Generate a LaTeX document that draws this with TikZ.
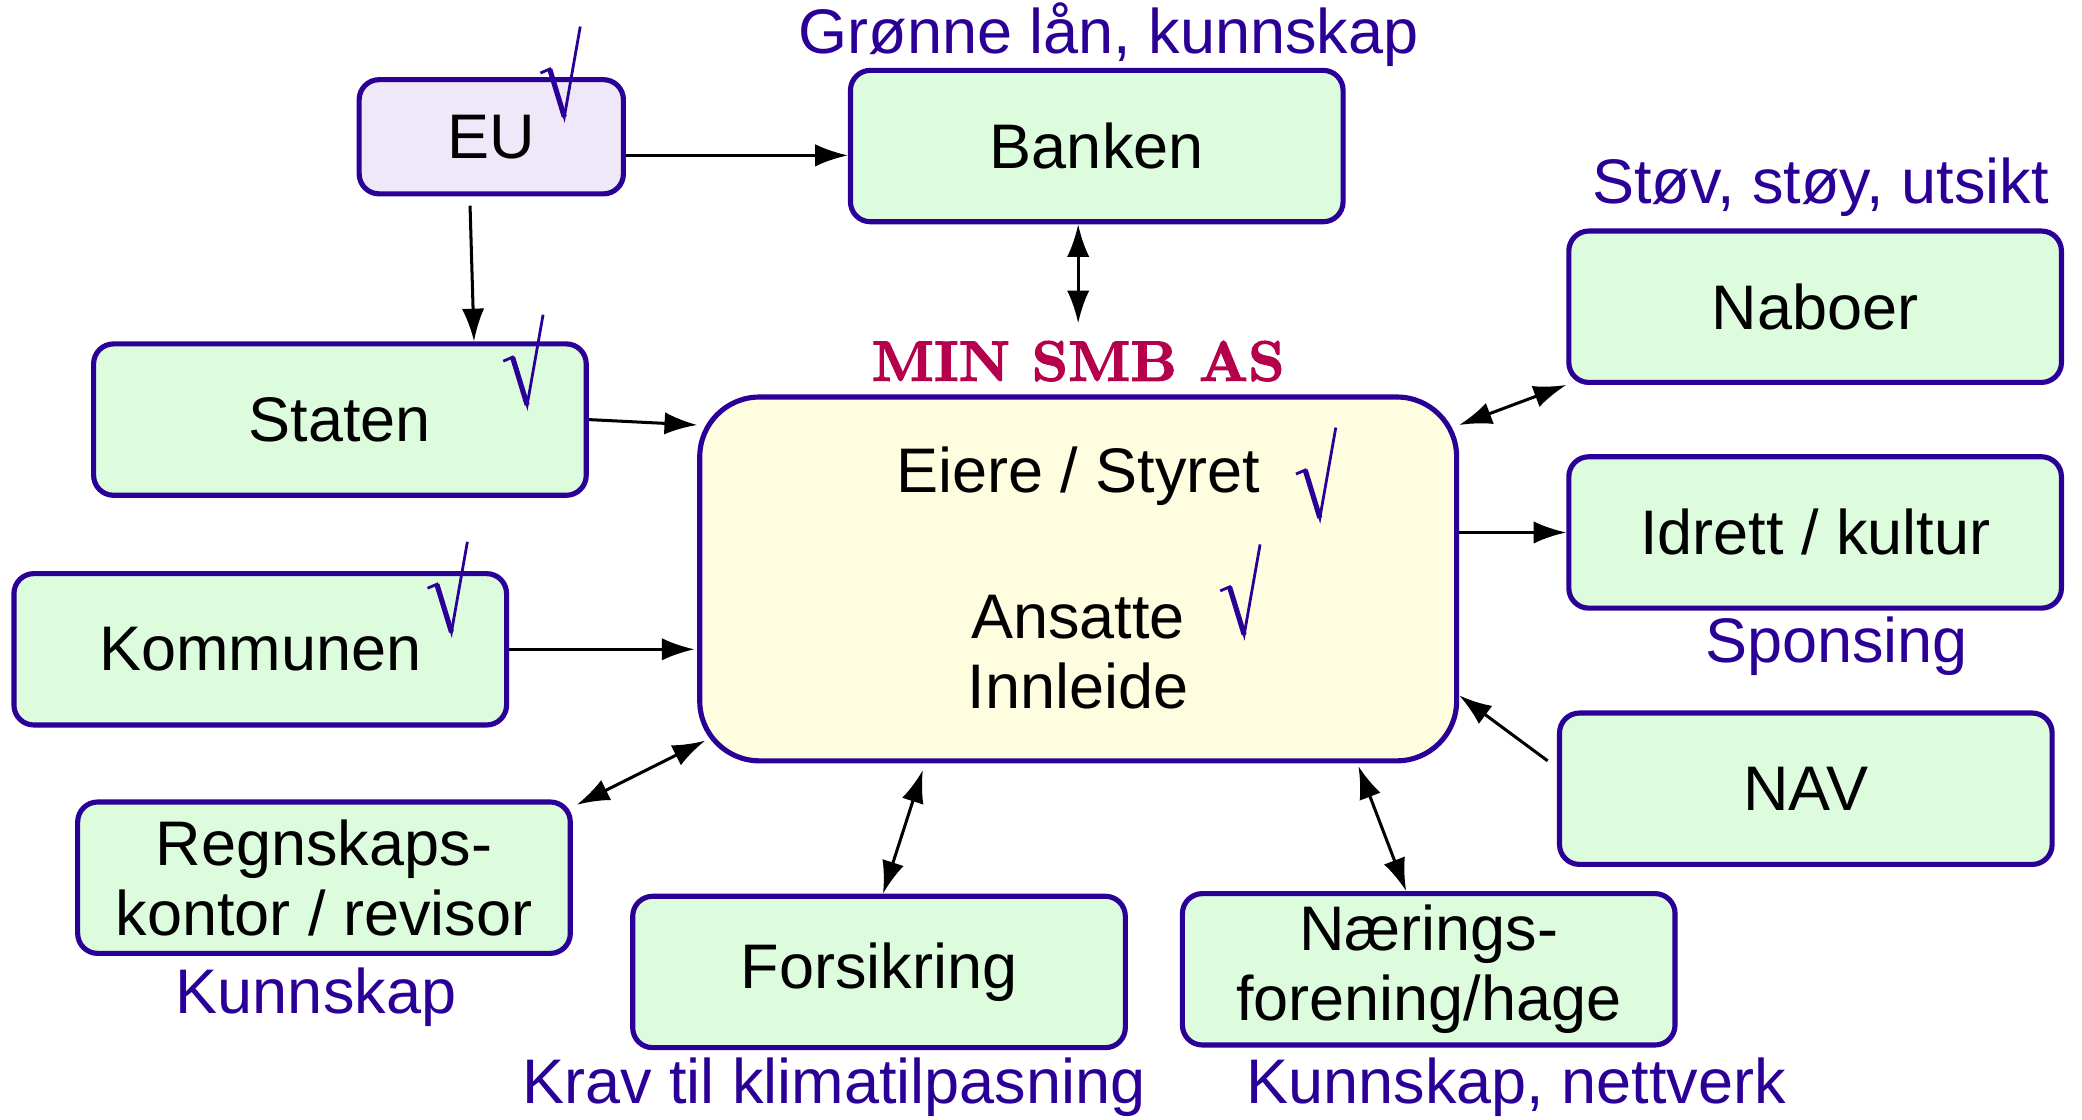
\documentclass[tikz,border=0pt]{standalone}
\usepackage{fontspec}
\setsansfont{Liberation Sans}
\newfontfamily\titlefont{lmroman10-bold.otf}[FakeBold=2]
\usetikzlibrary{arrows.meta,positioning}

\definecolor{boxblue}{HTML}{2A0096}
\definecolor{greenfill}{HTML}{DDFCDD}
\definecolor{eufill}{HTML}{EEE8F8}
\definecolor{mainfill}{HTML}{FFFDDF}
\definecolor{titlered}{HTML}{B5004B}

\tikzset{
    box/.style={draw=boxblue, line width=1.1pt, rounded corners=0.15cm, fill=greenfill,
        minimum width=3.71cm, minimum height=1.14cm, align=center, inner sep=0pt},
    note/.style={text=boxblue},
    arr/.style={-{Latex[length=7pt,width=4.8pt]}, line width=0.65pt},
    twoarr/.style={{Latex[length=7pt,width=4.8pt]}-{Latex[length=7pt,width=4.8pt]}, line width=0.65pt},
    okmark/.pic={
        \draw[boxblue, line width=0.6pt, line join=miter] (-0.18,0.33) -- (-0.11,0.36) -- (0,0) -- (0.12,0.68);
        \draw[boxblue, line width=1.1pt] (-0.11,0.36) -- (0,0);
    }
}

\begin{document}
\begin{tikzpicture}[every node/.style={font=\sffamily\fontsize{13.5}{15}\selectfont}]
        \useasboundingbox (0,0) rectangle (15.68,-8.43);
        % Blocks
        \node[box, fill=eufill, minimum width=1.99cm, minimum height=0.86cm] (eu) at (3.70,-1.03) {EU};
        \node[box] (banken) at (8.26,-1.10) {Banken};
        \node[box] (naboer) at (13.67,-2.31) {Naboer};
        \node[box] (staten) at (2.56,-3.16) {Staten};
        \node[box, fill=mainfill, minimum width=5.70cm, minimum height=2.74cm, rounded corners=0.45cm] (smb) at (8.12,-4.36) {};
        \node[box] (idrett) at (13.67,-4.01) {Idrett / kultur};
        \node[box] (kommunen) at (1.96,-4.89) {Kommunen};
        \node[box] (nav) at (13.60,-5.94) {NAV};
        \node[box] (regnskap) at (2.44,-6.61) {Regnskaps-\\kontor / revisor};
        \node[box] (forsikring) at (6.62,-7.32) {Forsikring};
        \node[box] (naering) at (10.76,-7.30) {Nærings-\\forening/hage};

        % Inside the company
        \node (eiere) at (8.12,-3.59) {Eiere / Styret};
        \node[align=center] (ansatte) at (8.12,-4.91) {Ansatte\\Innleide};
        \node[font=\titlefont\fontsize{12.2}{14}\selectfont, text=titlered] (smbtitle) at (8.12,-2.72) {MIN SMB AS};

        % Labels
        \node[note] (gronne) at (8.35,-0.26) {Grønne lån, kunnskap};
        \node[note] (stov) at (13.71,-1.41) {Støv, støy, utsikt};
        \node[note] (sponsing) at (13.83,-4.87) {Sponsing};
        \node[note] (kunnskap) at (2.38,-7.51) {Kunnskap};
        \node[note] (krav) at (6.28,-8.19) {Krav til klimatilpasning};
        \node[note] (nettverk) at (11.42,-8.19) {Kunnskap, nettverk};

        % Ticks
        \pic at (4.25,-0.88) {okmark};
        \pic at (3.97,-3.05) {okmark};
        \pic at (3.40,-4.76) {okmark};
        \pic at (9.94,-3.90) {okmark};
        \pic at (9.37,-4.78) {okmark};

        % Arrows
        \draw[arr] ([yshift=-1.4mm]eu.east) -- ([yshift=-1.4mm]eu.east -| banken.west);
        \draw[arr] ([xshift=-1.6mm,yshift=-0.7mm]eu.south) -- ([xshift=10.1mm]staten.north);
        \draw[twoarr] (banken.south -| smbtitle.north) -- ([yshift=0.1mm]smbtitle.north);
        \draw[arr] (staten.east) -- (smb.158);
        \draw[arr] (kommunen.east) -- ([xshift=-0.2mm]smb.west |- kommunen.east);
        \draw[twoarr] (smb.22) -- (naboer.south west);
        \draw[arr] (smb.east |- idrett.west) -- (idrett.west);
        \draw[arr] ([shift={(-0.07,0.21)}]nav.west) -- (smb.343);
        \draw[twoarr] ([xshift=0.6mm]smb.203) -- ([xshift=0.3mm,yshift=-0.4mm]regnskap.north east);
        \draw[twoarr] ([xshift=-11.7mm,yshift=-0.5mm]smb.south) -- ([xshift=0.3mm]forsikring.north);
        \draw[twoarr] ([xshift=21.1mm,yshift=-0.2mm]smb.south) -- ([xshift=-1.7mm]naering.north);

\end{tikzpicture}
\end{document}
